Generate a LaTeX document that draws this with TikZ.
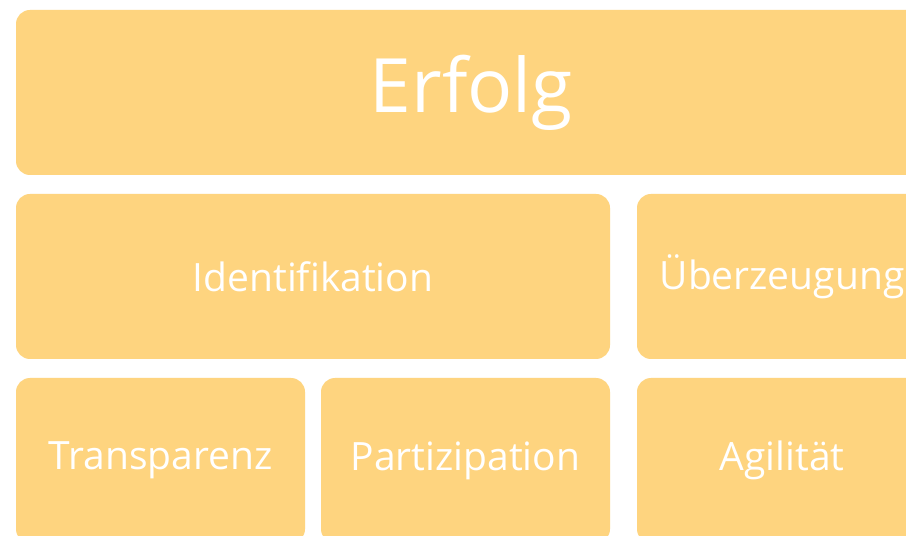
\documentclass[tikz,border=0pt]{standalone}
\usepackage{fontspec}
\setmainfont[Ligatures=NoCommon]{Open Sans}
\definecolor{boxfill}{RGB}{254,212,127}
\begin{document}
\begin{tikzpicture}[x=1pt,y=1pt,
  blk/.style={fill=boxfill,draw=none,rounded corners=14pt,text=white,inner sep=0pt,anchor=center,font=\fontsize{39}{47}\selectfont},
  big/.style={font=\fontsize{75}{90}\selectfont}]
\useasboundingbox (0,0) rectangle (906,536);
\clip (0,0) rectangle (906,536);
\fill[white] (0,0) rectangle (906,536);
\node[blk,big,minimum width=911pt,minimum height=165pt] (erfolg) at (471.5,443.5) {Erfolg};
\node[blk,minimum width=594pt,minimum height=165pt] (ident) at (313,259.5) {Identifikation};
\node[blk,minimum width=290pt,minimum height=165pt] (ueber) at (782,259.5) {Überzeugung};
\node[blk,minimum width=289pt,minimum height=165pt] (trans) at (160.5,75.5) {Transparenz};
\node[blk,minimum width=289pt,minimum height=165pt] (partiz) at (465.5,75.5) {Partizipation};
\node[blk,minimum width=290pt,minimum height=165pt] (agil) at (782,75.5) {Agilität};
\end{tikzpicture}
\end{document}
